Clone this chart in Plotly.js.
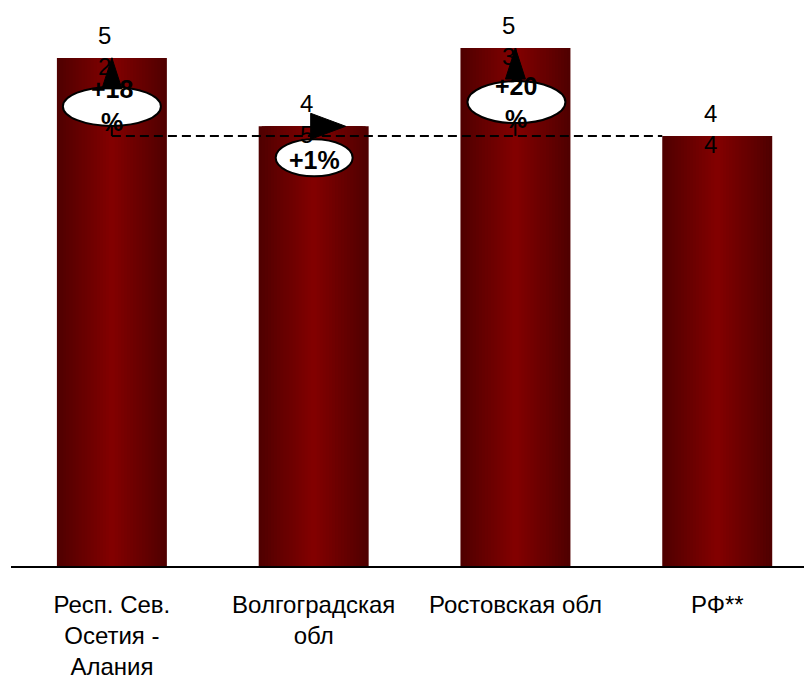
<!DOCTYPE html>
<html>
<head>
<meta charset="utf-8">
<script src="https://cdn.plot.ly/plotly-3.0.1.min.js"></script>
<style>html,body{margin:0;padding:0;background:#fff;}#chart{width:804px;height:678px;}</style>
</head>
<body>
<div id="chart"></div>
<script>
// ---- data ----
const categories = ["Респ. Сев. Осетия - Алания", "Волгоградская обл", "Ростовская обл", "РФ**"];
const tickLabels = ["Респ. Сев.<br>Осетия -<br>Алания", "Волгоградская<br>обл", "Ростовская обл", "РФ**"];
const values = [52, 45, 53, 44];
const valueLabels = ["5<br>2", "4<br>5", "5<br>3", "4<br>4"];
const growthLabels = ["+18<br>%", "+1%", "+20<br>%"];

// ---- styling ----
const xIdx = categories.map((_, i) => i);
const barW = 0.545;
const N = 18;
const edge = [80, 0, 0], center = [130, 0, 0];
const traces = [];
for (let k = 0; k < N; k++) {
  const t = k / (N - 1);
  const c = edge.map((e, j) => Math.round(e + (center[j] - e) * t));
  traces.push({
    type: 'bar', x: xIdx, y: values,
    width: barW * (1 - k / N),
    marker: { color: `rgb(${c[0]},${c[1]},${c[2]})`, line: { width: 0 } },
    hoverinfo: 'skip', showlegend: false
  });
}

const rf = values[3];
const shapes = [];
// dashed reference line at RF level
shapes.push({ type: 'line', xref: 'x', yref: 'y', x0: 0, x1: 3 - barW / 2, y0: rf, y1: rf,
  line: { color: 'black', width: 2, dash: '9px,5px' } });
// shafts for vertical arrows
[0, 2].forEach(i => {
  shapes.push({ type: 'line', xref: 'x', yref: 'y', x0: i, x1: i, y0: rf, y1: values[i],
    line: { color: 'black', width: 2 } });
});
// ellipses
const ell = [
  { i: 0, x0: -49, x1: 49, y0: -29, y1: -68 },
  { i: 1, x0: -38, x1: 39, y0: -13, y1: -50 },
  { i: 2, x0: -48, x1: 50, y0: -33, y1: -75 }
];
ell.forEach(e => {
  shapes.push({ type: 'circle', xref: 'x', yref: 'y', xsizemode: 'pixel', ysizemode: 'pixel',
    xanchor: e.i, yanchor: values[e.i], x0: e.x0, x1: e.x1, y0: e.y0, y1: e.y1,
    fillcolor: 'white', line: { color: 'black', width: 2 } });
});
// arrow heads
[0, 2].forEach(i => {
  shapes.push({ type: 'path', xref: 'x', yref: 'y', xsizemode: 'pixel', ysizemode: 'pixel',
    xanchor: i, yanchor: values[i], path: 'M-10,-31 L10,-31 L0,0 Z',
    fillcolor: 'black', line: { color: 'black', width: 1 } });
});
shapes.push({ type: 'path', xref: 'x', yref: 'y', xsizemode: 'pixel', ysizemode: 'pixel',
  xanchor: 1, yanchor: values[1], path: 'M-3,13 L-3,-13 L32,0 Z',
  fillcolor: 'black', line: { color: 'black', width: 1 } });

const annotations = [];
values.forEach((v, i) => {
  annotations.push({ x: i, y: v, xref: 'x', yref: 'y', text: valueLabels[i], showarrow: false,
    xanchor: 'center', yanchor: 'middle', xshift: -7, yshift: 7,
    font: { family: 'Liberation Sans, Arial, sans-serif', size: 24, color: 'black' } });
});
const gShift = [-48, -34, -54];
growthLabels.forEach((g, i) => {
  annotations.push({ x: i, y: values[i], xref: 'x', yref: 'y', text: '<b>' + g.replace('<br>', '</b><br><b>') + '</b>',
    showarrow: false, xanchor: 'center', yanchor: 'middle', yshift: gShift[i], xshift: 1,
    font: { family: 'Liberation Sans, Arial, sans-serif', size: 25, color: 'black' } });
});

const layout = {
  width: 804, height: 678,
  margin: { l: 11, r: 0, t: 10, b: 112 },
  paper_bgcolor: 'white', plot_bgcolor: 'white',
  barmode: 'overlay',
  showlegend: false,
  xaxis: {
    range: [-0.5, 3.43], tickvals: xIdx, ticktext: tickLabels,
    showline: true, linecolor: 'black', linewidth: 2, ticks: '', showgrid: false, zeroline: false,
    ticklabelstandoff: 16,
    tickfont: { family: 'Liberation Sans, Arial, sans-serif', size: 24, color: 'black' }
  },
  yaxis: { range: [0, 56.9], visible: false, showgrid: false, zeroline: false },
  shapes: shapes,
  annotations: annotations
};

Plotly.newPlot('chart', traces, layout, { staticPlot: true, displayModeBar: false });
</script>
</body>
</html>
